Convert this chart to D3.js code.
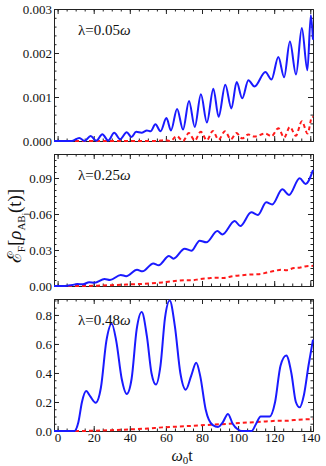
<!DOCTYPE html>
<html>
<head>
<meta charset="utf-8">
<script src="https://cdn.jsdelivr.net/npm/d3@7"></script>
<style>
body { margin: 0; background: #fff; }
svg text { font-family: "Liberation Serif", "Times New Roman", Times, serif !important; fill: #111; }
.tick text { font-size: 13px; }
</style>
</head>
<body>
<div id="chart"></div>
<script>
// ---- data (peaks, troughs and a few points between) ----
var t_blue1 = [-2, 8, 12, 15, 18.3, 21.4, 24.8, 28, 31.4, 34.6, 38.3, 40.9, 43.5, 46.5, 49.5, 51.5, 54.2, 57, 60.3, 62.8, 66.2, 69.5, 72.8, 76, 79.4, 82.7, 86.3, 89.2, 92.9, 96.3, 99.2, 102.3, 105.7, 109.1, 115.1, 118.5, 122.3, 125.5, 128.7, 132.1, 135.3, 138.4, 140.3, 141.5];
var v_blue1 = [0, 0, 0.00007, 0, 0.000115, 0.000005, 0.000155, 0.00001, 0.000185, 0.00004, 0.0002, 0.00009, 0.00021, 0.00019, 0.00024, 0.00022, 0.00038, 0.00022, 0.00052, 0.00024, 0.00073, 0.00026, 0.00091, 0.00032, 0.00106, 0.00042, 0.00119, 0.00055, 0.00128, 0.00074, 0.00134, 0.00097, 0.00138, 0.00124, 0.00157, 0.0014, 0.00191, 0.00145, 0.00226, 0.00151, 0.00257, 0.00161, 0.00286, 0.0023];
var t_red1 = [-2, 55, 59, 62.5, 66, 69.5, 72.7, 76, 79.3, 82.7, 86, 89.2, 92.7, 96, 99, 102.3, 105.7, 109, 115, 118.5, 122.3, 125.5, 128.7, 132, 135.3, 138.5, 141, 141.5];
var v_red1 = [0, 0, 0.00002, 0, 0.00011, 0, 0.00018, 0.00001, 0.00021, 0.00002, 0.00023, 0.00003, 0.00022, 0.00004, 0.00018, 0.00006, 0.00015, 0.0001, 0.00017, 0.00011, 0.00029, 0.00008, 0.00032, 0.00012, 0.00045, 0.00017, 0.00055, 0.00054];

var t_blue2 = [-2, 4, 8, 11, 14, 17.5, 20.5, 26, 29, 35, 38, 44, 47, 53, 56, 61.7, 64.2, 70.4, 74.1, 78.7, 82.4, 88.5, 91.3, 98.1, 101.2, 107.3, 111, 115.6, 118.9, 124.5, 128.2, 134.1, 137.4, 141.5];
var v_blue2 = [0, 0, 0.0008, 0.0016, 0.0014, 0.0032, 0.0028, 0.0058, 0.005, 0.0092, 0.0082, 0.0135, 0.0122, 0.0188, 0.0172, 0.025, 0.0228, 0.0311, 0.0294, 0.0378, 0.0364, 0.0458, 0.043, 0.0542, 0.05, 0.0614, 0.0592, 0.0697, 0.068, 0.0806, 0.0758, 0.0897, 0.085, 0.0965];
var t_red2 = [-2, 15, 22, 30, 38, 46, 52, 58, 65, 70, 74, 79, 84, 88, 92, 97, 102, 107, 111, 116, 120, 124, 127, 131, 134, 137, 141.5];
var v_red2 = [0, 0, 0.0003, 0.0007, 0.0012, 0.0017, 0.0022, 0.003, 0.0042, 0.0048, 0.0047, 0.0058, 0.0065, 0.0068, 0.0067, 0.0082, 0.009, 0.0096, 0.0098, 0.0112, 0.0125, 0.0135, 0.0132, 0.015, 0.0152, 0.0163, 0.0168];

var t_blue3 = [-2, 9.3, 11.5, 13.5, 15.8, 18, 21.1, 24, 27, 30, 32.5, 35.5, 38.3, 41, 43.8, 46.6, 49.5, 52, 54.5, 57, 59.5, 62.1, 65, 68, 71, 74, 76.8, 79, 82, 86, 88.9, 91.5, 94.4, 97, 99.9, 102, 107.5, 110, 112.5, 117.5, 120.5, 123.5, 126.7, 129.5, 132, 134.1, 136.5, 139, 141.5];
var v_blue3 = [0, 0, 0.06, 0.2, 0.275, 0.24, 0.195, 0.3, 0.62, 0.74, 0.62, 0.36, 0.255, 0.36, 0.7, 0.82, 0.65, 0.4, 0.32, 0.45, 0.78, 0.9, 0.72, 0.4, 0.285, 0.38, 0.47, 0.38, 0.15, 0.04, 0.028, 0.06, 0.118, 0.05, 0.01, 0, 0, 0.05, 0.1, 0.1, 0.2, 0.45, 0.52, 0.4, 0.2, 0.163, 0.25, 0.45, 0.63];
var t_red3 = [-2, 12, 20, 30, 40, 50, 58, 66, 75, 85, 95, 105, 113, 118, 122, 126, 131, 136, 141.5];
var v_red3 = [0, 0, 0.002, 0.006, 0.011, 0.017, 0.025, 0.03, 0.036, 0.043, 0.05, 0.058, 0.064, 0.068, 0.071, 0.07, 0.075, 0.08, 0.082];

// tick values
var xticks = [0, 20, 40, 60, 80, 100, 120, 140];
var yticks1 = [0, 0.001, 0.002, 0.003];
var yticks2 = [0, 0.03, 0.06, 0.09];
var yticks3 = [0, 0.2, 0.4, 0.6, 0.8];
var lambdas = ["0.05", "0.25", "0.48"];

w = 326;
h = 466;
var marges = {left: 54, right: 13, top: 9, bottom: 34};
var graf_w = w - marges.left - marges.right;
var panel_h = 132, panel_gap = 13;
var serif = "'Liberation Serif', 'Times New Roman', Times, serif";

var svg = d3.select("#chart")
  .append("svg")
    .attr("width", w)
    .attr("height", h)
    .attr("font-family", serif);

var x = d3.scaleLinear().domain([-2, 141.5]).range([0, graf_w]);

var panels = [
  {tb: t_blue1, vb: v_blue1, tr: t_red1, vr: v_red1, ymax: 0.003, yt: yticks1, ystep: 0.0002, fmt: ".3f"},
  {tb: t_blue2, vb: v_blue2, tr: t_red2, vr: v_red2, ymax: 0.11, yt: yticks2, ystep: 0.005, fmt: ".2f"},
  {tb: t_blue3, vb: v_blue3, tr: t_red3, vr: v_red3, ymax: 0.91, yt: yticks3, ystep: 0.05, fmt: ".1f"}
];

function minor(lo, hi, step) {
  return d3.range(Math.ceil(lo / step), Math.floor(hi / step) + 1).map(function(k) { return k * step; });
}

panels.forEach(function(p, i) {
  var top = marges.top + i * (panel_h + panel_gap);
  var g = svg.append("g").attr("transform", "translate(" + marges.left + "," + top + ")");
  var y = d3.scaleLinear().domain([0, p.ymax]).range([panel_h, 0]);
  var last = (i == panels.length - 1);

  // <-- FRAME + TICKS (all inward) -------------
  var xminor = minor(-2, 141.5, 5);
  var yminor = minor(0, p.ymax, p.ystep);
  var sides = [
    {ax: d3.axisLeft, sc: y, tr: "translate(0,0)", maj: p.yt, min: yminor, lab: d3.format(p.fmt)},
    {ax: d3.axisRight, sc: y, tr: "translate(" + graf_w + ",0)", maj: p.yt, min: yminor, lab: null},
    {ax: d3.axisTop, sc: x, tr: "translate(0,0)", maj: xticks, min: xminor, lab: null},
    {ax: d3.axisBottom, sc: x, tr: "translate(0," + panel_h + ")", maj: xticks, min: xminor, lab: last ? d3.format("d") : null}
  ];
  sides.forEach(function(s) {
    g.append("g")
      .attr("class", "minor")
      .attr("transform", s.tr)
      .call(s.ax(s.sc).tickValues(s.min).tickSize(-2.5).tickSizeOuter(0).tickFormat(""));
    g.append("g")
      .attr("class", "major")
      .attr("transform", s.tr)
      .call(s.ax(s.sc).tickValues(s.maj).tickSize(-5).tickSizeOuter(0).tickPadding(2)
        .tickFormat(s.lab ? s.lab : function() { return ""; }));
  });
  // -- FRAME + TICKS ------------->

  var line = d3.line()
    .x(function(d) { return x(d[0]); })
    .y(function(d) { return y(d[1]); })
    .curve(d3.curveMonotoneX);

  g.append("path")
    .datum(d3.zip(p.tr, p.vr))
    .attr("fill", "none")
    .attr("stroke", "#ff1a1a")
    .attr("stroke-width", 2)
    .attr("stroke-dasharray", "4,3")
    .attr("d", line);

  g.append("path")
    .datum(d3.zip(p.tb, p.vb))
    .attr("fill", "none")
    .attr("stroke", "#1a1aff")
    .attr("stroke-width", 2)
    .attr("d", line);

  var lab = g.append("text")
    .attr("x", 24)
    .attr("y", 26)
    .style("font-size", "15px");
  lab.append("tspan").text("\u03bb=" + lambdas[i]);
  lab.append("tspan").style("font-style", "italic").text("\u03c9");
});

svg.selectAll("g").attr("font-family", serif);
svg.selectAll(".domain").attr("stroke", "#222").attr("stroke-width", 1);
svg.selectAll(".tick line").attr("stroke", "#222");
svg.selectAll(".tick text").attr("fill", "#111").style("font-size", "13px");

// <-- AXIS LABELS -------------
var ylab = svg.append("text")
  .attr("transform", "translate(21,226) rotate(-90)")
  .attr("text-anchor", "middle")
  .style("font-size", "19px");
ylab.append("tspan").text("\u2130");
ylab.append("tspan").attr("dy", 4).style("font-size", "11px").text("F");
ylab.append("tspan").attr("dy", -4).text("[");
ylab.append("tspan").style("font-style", "italic").text("\u03c1");
ylab.append("tspan").attr("dy", 4).style("font-size", "11px").text("AB");
ylab.append("tspan").attr("dy", 3).style("font-size", "8px").text("j");
ylab.append("tspan").attr("dy", -7).text("(t)]");

var xlab = svg.append("text")
  .attr("x", 182)
  .attr("y", 461)
  .attr("text-anchor", "middle")
  .style("font-size", "16px");
xlab.append("tspan").style("font-style", "italic").text("\u03c9");
xlab.append("tspan").attr("dy", 3).style("font-size", "11px").text("0");
xlab.append("tspan").attr("dy", -3).text("t");
// -- AXIS LABELS ------------->
</script>
</body>
</html>
